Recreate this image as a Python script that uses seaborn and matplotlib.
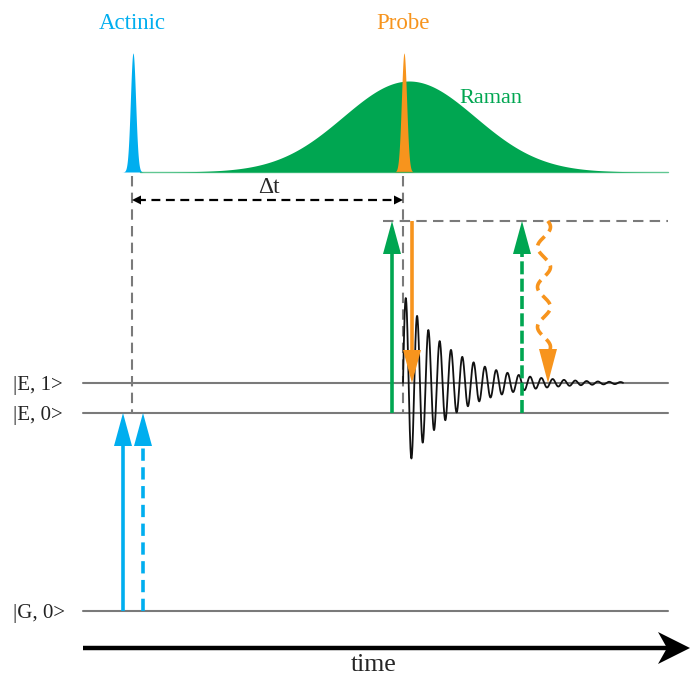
import numpy as np
import pandas as pd
import matplotlib
matplotlib.use("Agg")
import matplotlib.pyplot as plt
import seaborn as sns

# ---- data / schematic parameters (pixel-like units) ----
level_names = ["|E, 1>", "|E, 0>", "|G, 0>"]
level_y = [383, 413, 611]
level_x = [83, 668]

pulse_names = ["Actinic", "Probe"]
pulse_x = [133, 404]
pulse_height = [119, 119]
pulse_sigma = [2.6, 2.6]
pulse_colors = ["#00AEEF", "#F7941D"]
pulse_base = 172

raman_center = 409
raman_sigma = 66
raman_height = 91
raman_span = [140, 668]
green = "#00A651"
grey = "#7a7a7a"

virtual_y = 221
virtual_x = [383, 668]

osc_start = 403
osc_end = 623
osc_center = 383
osc_amp = 90
osc_period = 11.3
osc_tau = 48

time_axis = [83, 690]
time_y = 648

sns.set_theme(style="white")
plt.rcParams['font.family'] = ['Liberation Serif', 'DejaVu Serif']

fig = plt.figure(figsize=(6.9, 6.76), dpi=100)
ax = fig.add_axes([0, 0, 1, 1])


def arrow(x0, y0, x1, y1, color, lw=2.6, head_len=33, head_w=18, dashes=None, z=3):
    d = np.array([x1 - x0, y1 - y0], float)
    L = np.hypot(*d)
    u = d / L
    n = np.array([-u[1], u[0]])
    base = np.array([x1, y1]) - u * head_len
    line, = ax.plot([x0, base[0]], [y0, base[1]], color=color, lw=lw,
                    solid_capstyle="butt", zorder=z)
    if dashes is not None:
        line.set_dashes(dashes)
    tri = np.array([[x1, y1], base + n * head_w / 2, base - n * head_w / 2])
    ax.fill(tri[:, 0], tri[:, 1], color=color, lw=0, zorder=z)


# Raman gaussian
xr = np.linspace(raman_span[0], raman_span[1], 600)
yr = pulse_base - raman_height * np.exp(-0.5 * ((xr - raman_center) / raman_sigma) ** 2)
ax.fill_between(xr, pulse_base, yr, color=green, lw=0)
ax.plot(xr, np.full_like(xr, pulse_base), color=green, lw=1, alpha=0.6)

# narrow pulses
for name, px, ph, ps, pc in zip(pulse_names, pulse_x, pulse_height, pulse_sigma, pulse_colors):
    xs = np.linspace(px - 6 * ps, px + 6 * ps, 200)
    ys = pulse_base - ph * np.exp(-0.5 * ((xs - px) / ps) ** 2)
    ax.fill_between(xs, pulse_base, ys, color=pc, lw=0)
    ax.text(px - 1, 21, name, color=pc, fontsize=16.5, ha="center", va="center_baseline")
ax.text(491, 96, "Raman", color=green, fontsize=16, ha="center", va="center_baseline")

# energy levels
for name, ly in zip(level_names, level_y):
    ax.plot(level_x, [ly, ly], color=grey, lw=1.5, zorder=1)
    ax.text(13, ly, name, fontsize=15, ha="left", va="center_baseline", color="#222222")

# vertical grey dashed markers
for px in pulse_x:
    l, = ax.plot([px - 1, px - 1], [176, level_y[1]], color=grey, lw=1.5, zorder=1)
    l.set_dashes([5, 3])

# virtual level
l, = ax.plot(virtual_x, [virtual_y, virtual_y], color=grey, lw=1.5, zorder=1)
l.set_dashes([5, 3])

# delta t arrow
l, = ax.plot([pulse_x[0] + 4, pulse_x[1] - 6], [200, 200], color="black", lw=1.6)
l.set_dashes([4, 2.5])
for tip, dirn in [(pulse_x[0] - 1, 1), (pulse_x[1] - 1, -1)]:
    ax.fill([tip, tip + dirn * 9, tip + dirn * 9], [200, 195.5, 204.5], color="black", lw=0)
ax.text((pulse_x[0] + pulse_x[1]) / 2, 185, "Δt", fontsize=17, ha="center", va="center_baseline")

# damped oscillation
t = np.linspace(0, osc_end - osc_start, 2000)
osc = pd.DataFrame({
    "x": osc_start + t,
    "y": osc_center - osc_amp * np.exp(-t / osc_tau) * np.sin(2 * np.pi * t / osc_period),
})
sns.lineplot(data=osc, x="x", y="y", ax=ax, color="#111111", lw=1.3, sort=False,
             estimator=None, zorder=2)

# actinic arrows
arrow(123, level_y[2], 123, level_y[1], pulse_colors[0])
arrow(143, level_y[2], 143, level_y[1], pulse_colors[0], dashes=[3.4, 1.8])

# raman / probe arrows
arrow(392, level_y[1], 392, virtual_y, green)
arrow(412, virtual_y, 412, level_y[0], pulse_colors[1])
arrow(522, level_y[1], 522, virtual_y, green, dashes=[3.6, 1.2])

# wavy orange dashed arrow
yw = np.linspace(virtual_y, 352, 300)
xw = 544 + 6.5 * np.sin(2 * np.pi * (yw - 257) / 40)
l, = ax.plot(xw, yw, color=pulse_colors[1], lw=2.6, zorder=3)
l.set_dashes([3.2, 1.8])
ax.fill([548, 539, 557], [383, 349, 349], color=pulse_colors[1], lw=0, zorder=3)

# time axis
ax.plot([time_axis[0], time_axis[1] - 22], [time_y, time_y], color="black", lw=3.2, solid_capstyle="butt")
ax.fill([time_axis[1], time_axis[1] - 32, time_axis[1] - 23, time_axis[1] - 32],
        [time_y, time_y - 16, time_y, time_y + 16], color="black", lw=0)
ax.text(374, 665, "time", fontsize=18.5, ha="center", va="center")

ax.set_xlim(0, 690)
ax.set_ylim(676, 0)
ax.axis("off")

fig.savefig("out.png", dpi=100)
